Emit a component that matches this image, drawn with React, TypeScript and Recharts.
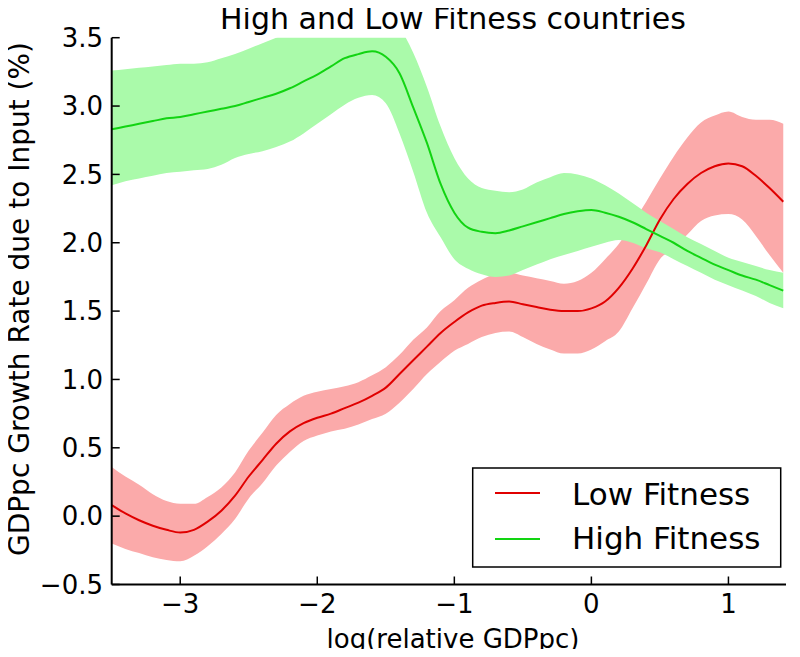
import React from 'react';
import { ComposedChart, Area, Line, XAxis, YAxis } from 'recharts';

const xValues = [
  -3.5, -3.4, -3.3, -3.2, -3.1, -3.0, -2.9, -2.8, -2.7, -2.6,
  -2.5, -2.4, -2.3, -2.2, -2.1, -2.0, -1.9, -1.8, -1.7, -1.6,
  -1.5, -1.4, -1.3, -1.2, -1.1, -1.0, -0.9, -0.8, -0.7, -0.6,
  -0.5, -0.4, -0.3, -0.2, -0.1, 0.0, 0.1, 0.2, 0.3, 0.4,
  0.5, 0.6, 0.7, 0.8, 0.9, 1.0, 1.1, 1.2, 1.3, 1.4,
];

const highMean = [
  2.83, 2.85, 2.87, 2.89, 2.91, 2.92, 2.94, 2.96, 2.98, 3.0,
  3.03, 3.06, 3.09, 3.13, 3.18, 3.23, 3.29, 3.35, 3.38, 3.4,
  3.36, 3.24, 2.99, 2.73, 2.43, 2.22, 2.11, 2.08, 2.07, 2.09,
  2.12, 2.15, 2.18, 2.21, 2.23, 2.24, 2.22, 2.19, 2.15, 2.1,
  2.05, 2.0, 1.94, 1.89, 1.84, 1.8, 1.76, 1.73, 1.69, 1.65,
];
const highUpper = [
  3.26, 3.27, 3.28, 3.29, 3.3, 3.31, 3.31, 3.32, 3.35, 3.38,
  3.42, 3.46, 3.5, 3.54, 3.58, 3.62, 3.66, 3.7, 3.73, 3.75,
  3.72, 3.58, 3.39, 3.14, 2.85, 2.62, 2.47, 2.4, 2.38, 2.37,
  2.39, 2.44, 2.48, 2.51, 2.5, 2.47, 2.42, 2.36, 2.29, 2.22,
  2.16, 2.1, 2.04, 1.99, 1.94, 1.89, 1.86, 1.83, 1.8, 1.78,
];
const highLower = [
  2.42, 2.45, 2.47, 2.49, 2.51, 2.52, 2.53, 2.54, 2.57, 2.62,
  2.65, 2.67, 2.7, 2.74, 2.8, 2.87, 2.94, 3.01, 3.06, 3.08,
  3.02, 2.8, 2.52, 2.22, 2.04, 1.88, 1.81, 1.77, 1.75, 1.76,
  1.8, 1.84, 1.88, 1.91, 1.94, 1.97, 2.0, 2.02, 2.0, 1.96,
  1.93, 1.88, 1.83, 1.78, 1.73, 1.69, 1.65, 1.61, 1.56, 1.52,
];

const lowMean = [
  0.08, 0.02, -0.03, -0.07, -0.1, -0.12, -0.1, -0.04, 0.04, 0.15,
  0.29, 0.41, 0.53, 0.62, 0.68, 0.72, 0.75, 0.79, 0.83, 0.88,
  0.94, 1.04, 1.14, 1.24, 1.34, 1.42, 1.49, 1.54, 1.56, 1.57,
  1.55, 1.53, 1.51, 1.5, 1.5, 1.52, 1.57, 1.67, 1.81, 1.98,
  2.17, 2.32, 2.43, 2.51, 2.56, 2.58, 2.56, 2.49, 2.4, 2.3,
];
const lowUpper = [
  0.36, 0.29, 0.23, 0.16, 0.11, 0.09, 0.09, 0.14, 0.21, 0.32,
  0.48, 0.61, 0.74, 0.82, 0.88, 0.91, 0.93, 0.95, 0.98, 1.03,
  1.09, 1.18, 1.29, 1.38, 1.5, 1.58, 1.67, 1.73, 1.77, 1.78,
  1.76, 1.74, 1.72, 1.7, 1.72, 1.78, 1.88, 1.99, 2.14, 2.3,
  2.47, 2.63, 2.77, 2.88, 2.93, 2.96, 2.92, 2.9, 2.9, 2.87,
];
const lowLower = [
  -0.2, -0.24, -0.27, -0.3, -0.32, -0.33, -0.29, -0.22, -0.13, -0.02,
  0.13, 0.24, 0.37, 0.47, 0.55, 0.59, 0.62, 0.64, 0.67, 0.71,
  0.75, 0.83, 0.93, 1.04, 1.13, 1.21, 1.26, 1.31, 1.34, 1.35,
  1.31, 1.26, 1.22, 1.19, 1.19, 1.22, 1.28, 1.35, 1.52, 1.7,
  1.88, 1.96, 2.06, 2.16, 2.2, 2.21, 2.17, 2.05, 1.91, 1.78,
];

const xTicks = [-3, -2, -1, 0, 1];
const yTicks = [-0.5, 0, 0.5, 1.0, 1.5, 2.0, 2.5, 3.0, 3.5];

const seriesNames = ['Low Fitness', 'High Fitness'];
const titleText = 'High and Low Fitness countries';
const xLabelText = 'log(relative GDPpc)';
const yLabelText = 'GDPpc Growth Rate due to Input (%)';

const data = xValues.map((x, i) => ({
  x,
  lowMean: lowMean[i],
  lowBand: [lowLower[i], lowUpper[i]],
  highMean: highMean[i],
  highBand: [highLower[i], highUpper[i]],
}));

const FONT = 'DejaVu Sans';
const RED_LINE = '#e00000';
const RED_BAND = '#fbaaaa';
const GREEN_LINE = '#12d412';
const GREEN_BAND = '#aafaaa';

const minus = (s: string) => s.replace('-', '\u2212');
const fmtX = (v: number) => minus(String(v));
const fmtY = (v: number) => minus(v.toFixed(1));
const blank = () => '';

const W = 800;
const H = 657;
const xDomain: [number, number] = [-3.5, 1.42];
const yDomain: [number, number] = [-0.5, 3.5];

const axisLine = { stroke: '#000', strokeWidth: 2 };
const tickLine = { stroke: '#000', strokeWidth: 1.5 };
const tickStyle = { fill: '#000', fontSize: 26, fontFamily: FONT };

export default function App() {
  return (
    <div style={{ position: 'relative', width: W, height: H, margin: -8 }}>
      <ComposedChart width={W} height={H} data={data} margin={{ top: 37.7, right: 14, bottom: 0, left: 0 }}>
        <XAxis
          xAxisId="b"
          dataKey="x"
          type="number"
          domain={xDomain}
          ticks={xTicks}
          allowDataOverflow
          height={72.5}
          tickSize={-8}
          tickMargin={18.5}
          tickFormatter={fmtX}
          tick={tickStyle}
          axisLine={axisLine}
          tickLine={tickLine}
        />
        <XAxis
          xAxisId="t"
          orientation="top"
          dataKey="x"
          type="number"
          domain={xDomain}
          ticks={xTicks}
          allowDataOverflow
          height={0}
          tickSize={-8}
          tickFormatter={blank}
          tick={tickStyle}
          axisLine={axisLine}
          tickLine={tickLine}
        />
        <YAxis
          yAxisId="l"
          type="number"
          domain={yDomain}
          ticks={yTicks}
          allowDataOverflow
          width={111.7}
          tickSize={-8}
          tickMargin={16.7}
          tickFormatter={fmtY}
          tick={tickStyle}
          axisLine={axisLine}
          tickLine={tickLine}
        />
        <YAxis
          yAxisId="r"
          orientation="right"
          type="number"
          domain={yDomain}
          ticks={yTicks}
          allowDataOverflow
          width={0}
          tickSize={-8}
          tickFormatter={blank}
          tick={tickStyle}
          axisLine={axisLine}
          tickLine={tickLine}
        />
        <Area
          xAxisId="b"
          yAxisId="l"
          dataKey="lowBand"
          type="monotone"
          stroke="none"
          fill={RED_BAND}
          fillOpacity={1}
          isAnimationActive={false}
          dot={false}
          activeDot={false}
        />
        <Area
          xAxisId="b"
          yAxisId="l"
          dataKey="highBand"
          type="monotone"
          stroke="none"
          fill={GREEN_BAND}
          fillOpacity={1}
          isAnimationActive={false}
          dot={false}
          activeDot={false}
        />
        <Line
          xAxisId="b"
          yAxisId="l"
          dataKey="lowMean"
          type="monotone"
          stroke={RED_LINE}
          strokeWidth={2}
          dot={false}
          activeDot={false}
          isAnimationActive={false}
        />
        <Line
          xAxisId="b"
          yAxisId="l"
          dataKey="highMean"
          type="monotone"
          stroke={GREEN_LINE}
          strokeWidth={2}
          dot={false}
          activeDot={false}
          isAnimationActive={false}
        />
      </ComposedChart>
      <svg
        width={W}
        height={H}
        style={{ position: 'absolute', left: 0, top: 0, pointerEvents: 'none' }}
        fontFamily={FONT}
      >
        <text x={453} y={28.5} textAnchor="middle" fontSize={30} fill="#000">{titleText}</text>
        <text x={453} y={648} textAnchor="middle" fontSize={26} fill="#000">{xLabelText}</text>
        <text
          x={0}
          y={0}
          transform="translate(29,299) rotate(-90)"
          textAnchor="middle"
          fontSize={28}
          fill="#000"
        >
          {yLabelText}
        </text>
        <rect x={472.7} y={468} width={308} height={99} fill="#fff" stroke="#000" strokeWidth={1.5} />
        <line x1={495} x2={540} y1={493} y2={493} stroke={RED_LINE} strokeWidth={2} />
        <line x1={495} x2={540} y1={539} y2={539} stroke={GREEN_LINE} strokeWidth={2} />
        <text x={572} y={505} fontSize={31} fill="#000">{seriesNames[0]}</text>
        <text x={572} y={549} fontSize={31} fill="#000">{seriesNames[1]}</text>
      </svg>
    </div>
  );
}
